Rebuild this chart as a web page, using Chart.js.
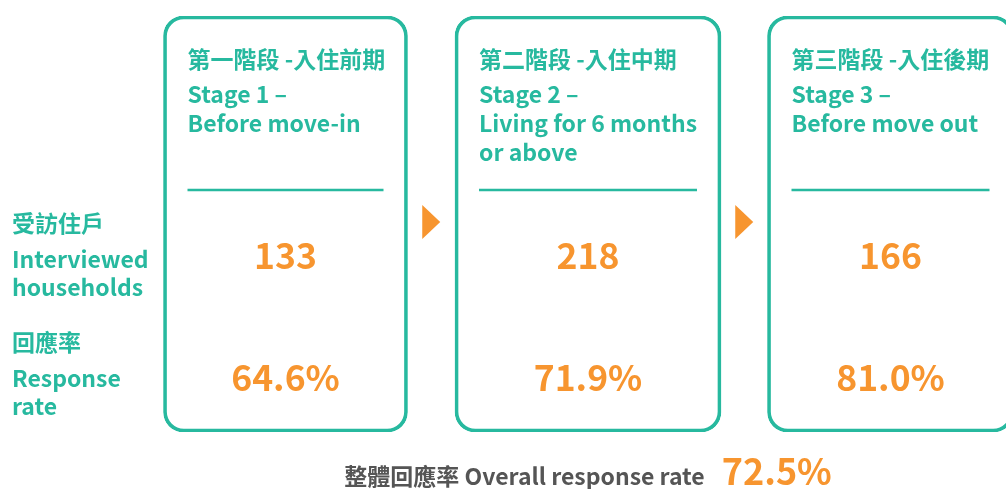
<!DOCTYPE html>
<html lang="zh-Hant">
<head>
<meta charset="UTF-8">
<title>Response rate by stage</title>
<script src="https://cdn.jsdelivr.net/npm/chart.js@4.4.2/dist/chart.umd.min.js"></script>
<style>
  html, body { margin: 0; padding: 0; background: #fff; overflow: hidden; }
  .wrap { width: 1060px; height: 489px; }
</style>
</head>
<body>
<div class="wrap"><canvas id="stageChart" width="1060" height="489"></canvas></div>
<script>
// data
const stagesZh = ['第一階段 -入住前期', '第二階段 -入住中期', '第三階段 -入住後期'];
const stagesEn = [['Stage 1 –', 'Before move-in'], ['Stage 2 –', 'Living for 6 months', 'or above'], ['Stage 3 –', 'Before move out']];
const households = [133, 218, 166];
const responseRates = [64.6, 71.9, 81.0];
const overallRate = 72.5;
const rowLabels = [['受訪住戶', 'Interviewed', 'households'], ['回應率', 'Response', 'rate']];
const overallLabel = '整體回應率 Overall response rate';

const TEAL = '#27b99f', ORANGE = '#f7952f', GREY = '#555555';
const FONT = "'Noto Sans CJK TC', 'Noto Sans', sans-serif";
const cardWidths = [244, 266, 246];

// text, dividers and arrows drawn on top of the card bars
const cardText = {
  id: 'cardText',
  afterDatasetsDraw(chart) {
    const ctx = chart.ctx;
    const xs = chart.scales.x;
    const top = chart.chartArea.top;
    const bars = stagesZh.map((s, i) => chart.getDatasetMeta(i).data[i]);
    ctx.save();
    ctx.textBaseline = 'alphabetic';

    bars.forEach((bar, i) => {
      const left = bar.x - bar.width / 2 + 24;
      const right = bar.x + bar.width / 2 - 24;
      ctx.fillStyle = TEAL;
      ctx.textAlign = 'left';
      ctx.font = 'bold 23px ' + FONT;
      ctx.fillText(stagesZh[i], left, top + 52);
      stagesEn[i].forEach((line, j) => ctx.fillText(line, left, top + 87 + j * 29));
      // divider
      ctx.strokeStyle = TEAL;
      ctx.lineWidth = 2.5;
      ctx.beginPath();
      ctx.moveTo(left, top + 174);
      ctx.lineTo(right, top + 174);
      ctx.stroke();
      // values
      ctx.fillStyle = ORANGE;
      ctx.textAlign = 'center';
      ctx.font = 'bold 35.5px ' + FONT;
      ctx.fillText(String(households[i]), bar.x, top + 253);
      ctx.fillText(responseRates[i].toFixed(1) + '%', bar.x, top + 375);
    });

    // arrows in the gaps between cards
    ctx.fillStyle = ORANGE;
    for (let i = 0; i < bars.length - 1; i++) {
      const gapL = bars[i].x + bars[i].width / 2;
      const gapR = bars[i + 1].x - bars[i + 1].width / 2;
      const cx = (gapL + gapR) / 2, cy = top + 206;
      ctx.beginPath();
      ctx.moveTo(cx - 9, cy - 17);
      ctx.lineTo(cx + 9, cy);
      ctx.lineTo(cx - 9, cy + 17);
      ctx.closePath();
      ctx.fill();
    }

    // row labels on the left
    ctx.fillStyle = TEAL;
    ctx.textAlign = 'left';
    ctx.font = 'bold 23px ' + FONT;
    const rowBase = [top + 216, top + 335];
    rowLabels.forEach((lines, r) => {
      ctx.fillText(lines[0], 12, rowBase[r]);
      ctx.fillText(lines[1], 12, rowBase[r] + 36);
      ctx.fillText(lines[2], 12, rowBase[r] + 64);
    });

    // overall line under the middle card
    const cx = xs.getPixelForValue(1);
    const rateText = overallRate.toFixed(1) + '%';
    ctx.font = 'bold 23px ' + FONT;
    const w1 = ctx.measureText(overallLabel).width;
    ctx.font = 'bold 36px ' + FONT;
    const w2 = ctx.measureText(rateText).width;
    const start = cx - (w1 + 17 + w2) / 2;
    ctx.fillStyle = GREY;
    ctx.font = 'bold 23px ' + FONT;
    ctx.fillText(overallLabel, start, 485);
    ctx.fillStyle = ORANGE;
    ctx.font = 'bold 36px ' + FONT;
    ctx.fillText(rateText, start + w1 + 17, 485);
    ctx.restore();
  }
};

// one floating bar per stage = the rounded card outline
const cardSets = stagesZh.map((s, i) => ({
  data: stagesZh.map((t, j) => (j === i ? [0, 1] : null)),
  backgroundColor: 'rgba(0,0,0,0)',
  borderColor: TEAL,
  borderWidth: 3,
  borderSkipped: false,
  borderRadius: 20,
  barThickness: cardWidths[i],
  grouped: false
}));

new Chart(document.getElementById('stageChart'), {
  type: 'bar',
  data: { labels: stagesZh, datasets: cardSets },
  options: {
    responsive: false,
    animation: false,
    events: [],
    layout: { padding: { left: 134.25, right: 18.25, top: 16, bottom: 57 } },
    scales: {
      x: { display: false },
      y: { display: false, min: 0, max: 1 }
    },
    plugins: { legend: { display: false }, tooltip: { enabled: false } }
  },
  plugins: [cardText]
});
</script>
</body>
</html>
